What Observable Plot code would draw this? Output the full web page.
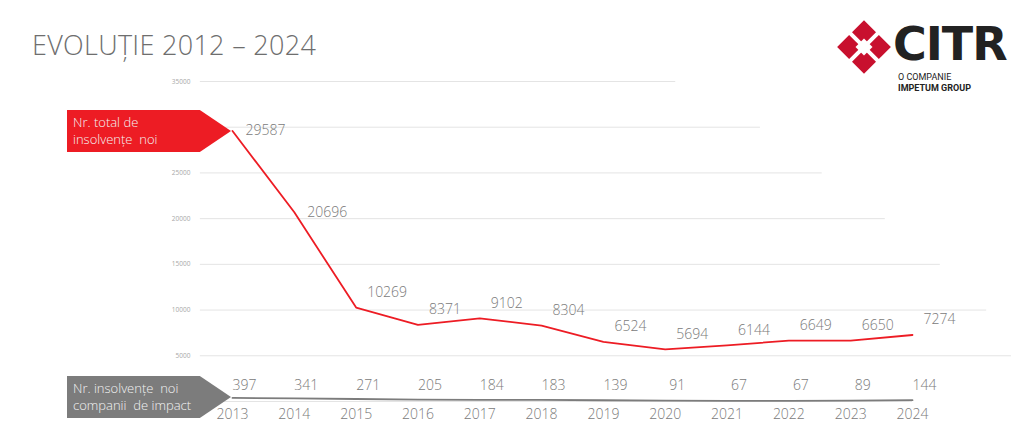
<!DOCTYPE html>
<html><head><meta charset="utf-8">
<script src="https://cdn.jsdelivr.net/npm/d3@7"></script>
<script src="https://cdn.jsdelivr.net/npm/@observablehq/plot@0.6"></script>
<style>
body{margin:0;background:#fff;font-family:"Open Sans",sans-serif;}
#wrap{position:relative;width:1024px;height:448px;overflow:hidden}
#chart{position:absolute;left:0;top:0}
.title{position:absolute;left:32px;top:26px;font-size:27px;font-weight:300;color:#6e6e6e;letter-spacing:0.3px}
.tag{position:absolute;left:67px;width:164px;height:42px;color:#f3f3f3;font-size:13px;font-weight:300;line-height:17px;padding:4px 0 0 6px;box-sizing:border-box;clip-path:polygon(0 0,81% 0,100% 50%,81% 100%,0 100%)}
</style></head><body>
<div id="wrap">
<div id="chart"></div>
<div class="title">EVOLUȚIE 2012 – 2024</div>
<div class="tag" style="top:110px;background:#ed1c24">Nr. total de<br>insolvențe&nbsp; noi</div>
<div class="tag" style="top:376px;background:#7c7c7c">Nr. insolvențe&nbsp; noi<br>companii&nbsp; de impact</div>
<svg style="position:absolute;left:836px;top:20px" width="56" height="54" viewBox="0 0 56 54">
 <g transform="translate(28,27) rotate(45)" fill="#c8102e">
  <rect x="-19" y="-19" width="17" height="17"/>
  <rect x="2" y="-19" width="17" height="17"/>
  <rect x="-19" y="2" width="17" height="17"/>
  <rect x="2" y="2" width="17" height="17"/>
  <rect x="-6" y="-6" width="12" height="12" fill="#fff"/>
 </g>
</svg>
<div style="position:absolute;left:893px;top:17px;font-family:'DejaVu Sans';font-weight:bold;font-size:46px;color:#222;letter-spacing:-1px">CITR</div>
<div style="position:absolute;left:898px;top:72px;font-family:'Roboto';font-size:9px;color:#222;line-height:11px">O COMPANIE<br><b>IMPETUM GROUP</b></div>
</div>
<script>
const years = [2013,2014,2015,2016,2017,2018,2019,2020,2021,2022,2023,2024];
const total = [29587,20696,10269,8371,9102,8304,6524,5694,6144,6649,6650,7274];
const impact = [397,341,271,205,184,183,139,91,67,67,89,144];
const gridValues = [0,5000,10000,15000,20000,25000,30000,35000];
const gridEnds = [2024.0,2025.6,2025.2,2024.45,2023.56,2022.54,2021.54,2020.17];
const yTickLabels = [5000,10000,15000,20000,25000,30000,35000];

const totalData = years.map((y,i)=>({year:y,v:total[i]}));
const impactData = years.map((y,i)=>({year:y,v:impact[i]}));
const grid = gridValues.map((v,i)=>({v,x2:gridEnds[i]}));
const txt = {fontSize:14,fill:"#7a7a7a",fontWeight:300};

const plot = Plot.plot({
  width:1024, height:448,
  marginLeft:232, marginRight:112, marginTop:81, marginBottom:47,
  x:{domain:[2013,2024], axis:null},
  y:{domain:[0,35000], axis:null},
  style:{fontFamily:"'Open Sans',sans-serif", overflow:"visible"},
  marks:[
    Plot.ruleY(grid,{y:"v",x1:2012.48,x2:"x2",stroke:"#e4e4e4",strokeWidth:1,clip:false}),
    Plot.text(yTickLabels,{x:2012.48,y:d=>d,text:d=>String(d),dx:-10,textAnchor:"end",fontSize:6.5,fill:"#a8a8a8"}),
    Plot.text(years,{x:d=>d,y:0,text:d=>String(d),dy:13,...txt}),
    Plot.line(totalData,{x:"year",y:"v",stroke:"#ed1c24",strokeWidth:1.8}),
    Plot.line(impactData,{x:"year",y:"v",stroke:"#7c7c7c",strokeWidth:1.8}),
    Plot.text(totalData.slice(0,2),{x:"year",y:"v",text:d=>String(d.v),dx:13,textAnchor:"start",...txt}),
    Plot.text(totalData.slice(2),{x:"year",y:"v",text:d=>String(d.v),dx:11,dy:-15,textAnchor:"start",...txt}),
    Plot.text(impactData,{x:"year",y:1700,text:d=>String(d.v),dx:12,...txt})
  ]
});
document.getElementById("chart").appendChild(plot);
</script>
</body></html>
